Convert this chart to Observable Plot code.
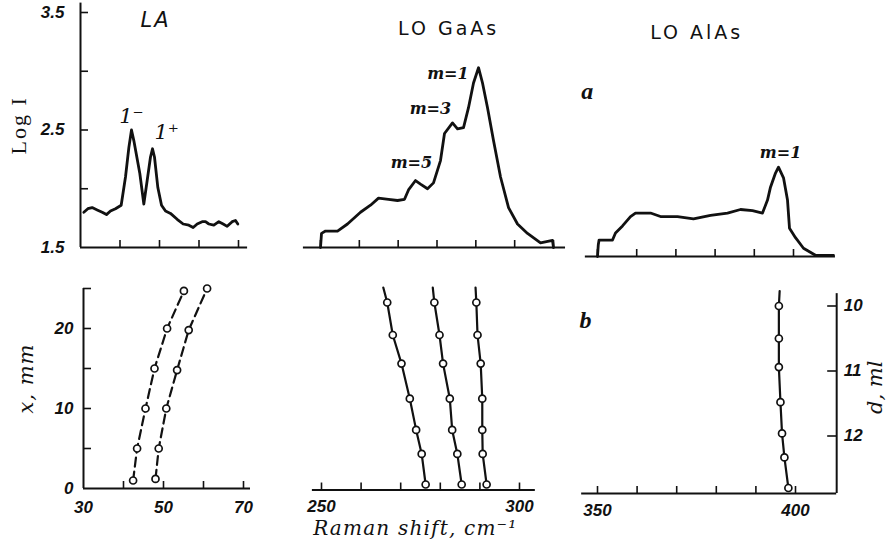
<!DOCTYPE html>
<html><head><meta charset="utf-8">
<script src="https://cdn.jsdelivr.net/npm/d3@7"></script>
<script src="https://cdn.jsdelivr.net/npm/@observablehq/plot@0.6"></script>
<style>
html,body{margin:0;padding:0;background:#fff;}
#chart{position:relative;width:889px;height:545px;overflow:hidden;background:#fff;}
#chart svg{position:absolute;left:0;top:0;background:transparent;overflow:visible;}
</style></head><body><div id="chart"></div>
<script>
// ---------- DATA ----------
// (a) spectra: Raman shift (cm^-1) vs log I
const laShift = [30.84,31.86,32.95,34.22,35.49,36.58,37.59,38.86,40.30,41.39,42.24,42.91,43.50,45.02,46.03,46.88,47.72,48.23,48.73,49.58,50.51,51.52,52.78,54.47,55.99,57.43,58.52,59.54,60.80,61.65,62.49,63.75,65.02,66.12,67.13,68.40,69.24,69.83];
const laLogI  = [1.80,1.83,1.84,1.82,1.80,1.78,1.81,1.83,1.86,2.10,2.35,2.50,2.41,2.13,1.87,2.07,2.27,2.34,2.27,2.01,1.86,1.81,1.79,1.74,1.70,1.69,1.67,1.70,1.72,1.72,1.70,1.69,1.72,1.70,1.68,1.72,1.73,1.70];

const gaShift = [250.0,250.26,251.29,254.38,256.95,260.30,262.88,264.94,267.51,269.83,271.63,272.66,274.47,275.75,277.56,279.10,280.90,281.93,283.99,285.28,286.83,288.11,289.40,290.69,291.72,293.01,294.55,296.36,298.42,300.73,303.31,306.66,309.75,310.0];
const gaLogI  = [1.50,1.62,1.64,1.64,1.70,1.80,1.86,1.92,1.91,1.90,1.91,1.99,2.07,2.04,2.00,2.05,2.24,2.47,2.56,2.51,2.52,2.69,2.90,3.03,2.90,2.69,2.41,2.10,1.84,1.70,1.62,1.54,1.56,1.50];

const alShift = [350.0,350.2,350.4,353.83,354.59,356.38,358.42,359.69,361.73,363.52,366.07,370.41,374.49,378.83,383.16,386.48,389.54,392.09,393.37,394.13,395.41,396.17,397.45,398.47,398.98,400.51,402.55,405.61,410.20];
const alLogI  = [1.50,1.60,1.64,1.64,1.70,1.76,1.84,1.87,1.87,1.87,1.84,1.84,1.82,1.85,1.87,1.90,1.89,1.87,1.98,2.09,2.21,2.26,2.17,1.98,1.74,1.66,1.57,1.51,1.51];

// (b) peak positions vs position x (mm) / layer thickness d (ml)
const laPosLow   = [1, 5, 10, 15, 20, 24.7];
const laShiftLow = [42.4, 43.4, 45.5, 47.75, 50.9, 55.1];      // 1-
const laPosHigh   = [1.2, 5, 10, 14.8, 19.8, 25];
const laShiftHigh = [48.0, 48.8, 50.7, 53.4, 56.3, 60.9];      // 1+

const dLayers = [10.0, 10.5, 10.94, 11.48, 11.96, 12.33, 12.8];
const gaM5 = [266.6, 268.0, 270.2, 272.3, 273.9, 275.3, 276.3];
const gaM3 = [278.5, 279.8, 280.7, 282.4, 283.0, 284.3, 285.4];
const gaM1 = [289.1, 289.4, 290.2, 290.6, 290.6, 290.7, 291.7];
const alM1 = [395.8, 395.8, 395.8, 396.2, 396.6, 397.2, 398.2];
// fitted lines continue slightly above the first point
const lineTopD = 9.77;
const gaLineTop = [265.6, 278.1, 288.9];   // m=5, m=3, m=1
const alLineTop = 396.0;

// ticks and tick labels
const laTicks = [40, 50, 60, 70];
const laLabels = [30, 50, 70];
const gaTopTicks = [250, 260, 270, 280, 290, 300, 310];
const gaBotTicks = [250, 260, 270, 280, 290, 300];
const gaLabels = [250, 300];
const alTicks = [350, 360, 370, 380, 390, 400];
const alLabels = [350, 400];
const logTicks = [2.0, 2.5, 3.0, 3.5];
const logLabels = [1.5, 2.5, 3.5];
const mmTicks = [5, 10, 15, 20, 25];
const mmLabels = [0, 10, 20];
const dTicks = [10, 11, 12];

const titles = ["LA", "LO GaAs", "LO AlAs"];
const peakLabels = ["1⁻", "1⁺"];
const modeLabels = ["m=1", "m=3", "m=5"];

// ---------- RENDER ----------
const W = 889, H = 545, INK = "#111";
const zip = (xs, ys) => xs.map((x, i) => ({x, y: ys[i]}));
const tickFont = {fontFamily: "'Liberation Sans',Arial,sans-serif", fontStyle: "italic", fontWeight: "bold", fontSize: 17, fill: INK};
const titleFont = {fontFamily: "'DejaVu Sans',sans-serif", fontSize: 19, fill: INK};
const annFont = {fontFamily: "'DejaVu Serif',serif", fontStyle: "italic", fontWeight: "bold", fontSize: 16, fill: INK};
const labelFont = {fontFamily: "'DejaVu Serif','Liberation Serif',serif", fontStyle: "italic", fontSize: 19, fill: INK};
const spec = {x: "x", y: "y", stroke: INK, strokeWidth: 2.8, strokeLinejoin: "round", strokeLinecap: "round"};
const axisW = 2, tickW = 1.6;

function panel(xd, xr, yd, yr, marks) {
  const svg = Plot.plot({
    width: W, height: H, margin: 0,
    x: {domain: xd, range: xr, axis: null},
    y: {domain: yd, range: yr, axis: null},
    style: {background: "transparent", overflow: "visible"},
    marks
  });
  svg.style.position = "absolute"; svg.style.left = "0"; svg.style.top = "0";
  svg.style.background = "transparent";
  document.getElementById("chart").appendChild(svg);
  return svg;
}
const xTicksUp = (vals, yb, len = 7) => Plot.ruleX(vals, {x: d => d, y1: yb, y2: yb, insetBottom: len, stroke: INK, strokeWidth: tickW});
const yTicksRight = (vals, xb, len = 8) => Plot.ruleY(vals, {y: d => d, x1: xb, x2: xb, insetRight: -len, stroke: INK, strokeWidth: tickW});
const yTicksLeft = (vals, xb, len = 9) => Plot.ruleY(vals, {y: d => d, x1: xb, x2: xb, insetRight: len, stroke: INK, strokeWidth: tickW});

// --- top-left: LA spectrum with log I axis
panel([30, 70], [80, 238], [1.5, 3.5], [247, 12], [
  Plot.ruleY([1.5], {x1: 30, x2: 72.3, stroke: INK, strokeWidth: axisW}),
  Plot.ruleX([30], {y1: 1.5, y2: 3.58, stroke: INK, strokeWidth: axisW}),
  xTicksUp(laTicks, 1.5),
  yTicksRight(logTicks, 30),
  Plot.text(logLabels, {x: 30, y: d => d, text: d => d.toFixed(1), textAnchor: "end", dx: -16, ...tickFont}),
  Plot.line(zip(laShift, laLogI), spec),
  Plot.text([titles[0]], {x: 49, y: 3.43, text: d => d, ...titleFont, fontStyle: "italic", fontSize: 21}),
  Plot.text([peakLabels[0]], {x: 42.9, y: 2.62, text: d => d, ...labelFont, fontSize: 21}),
  Plot.text([peakLabels[1]], {x: 51.8, y: 2.48, text: d => d, ...labelFont, fontSize: 21}),
  Plot.text(["Log I"], {x: 14.3, y: 2.54, text: d => d, rotate: -90, fontFamily: "'Liberation Serif','DejaVu Serif',serif", fontSize: 22, fill: INK})
]);

// --- top-middle: LO GaAs spectrum
panel([250, 310], [320, 553], [1.5, 3.5], [247, 12], [
  Plot.ruleY([1.5], {x1: 245.6, x2: 313.1, stroke: INK, strokeWidth: axisW}),
  xTicksUp(gaTopTicks, 1.5),
  Plot.line(zip(gaShift, gaLogI), spec),
  Plot.text([titles[1]], {x: 283.0, y: 3.36, text: d => d, ...titleFont}),
  Plot.text([modeLabels[0]], {x: 282.8, y: 2.98, text: d => d, ...annFont}),
  Plot.text([modeLabels[1]], {x: 278.3, y: 2.68, text: d => d, ...annFont}),
  Plot.text([modeLabels[2]], {x: 273.4, y: 2.22, text: d => d, ...annFont})
]);

// --- top-right: LO AlAs spectrum
panel([350, 400], [597, 793], [1.5, 3.5], [256, 21], [
  Plot.ruleY([1.5], {x1: 346.9, x2: 410.7, stroke: INK, strokeWidth: axisW}),
  xTicksUp(alTicks, 1.5),
  Plot.line(zip(alShift, alLogI), spec),
  Plot.text([titles[2]], {x: 375.3, y: 3.40, text: d => d, ...titleFont}),
  Plot.text([modeLabels[0]], {x: 396.7, y: 2.38, text: d => d, ...annFont}),
  Plot.text(["a"], {x: 347.4, y: 2.91, text: d => d, fontFamily: "'Liberation Serif',serif", fontStyle: "italic", fontWeight: "bold", fontSize: 24, fill: INK})
]);

// --- bottom-left: LA peaks vs x (mm)
const dotStyle = {r: 3.5, fill: "white", stroke: INK, strokeWidth: 1.7};
panel([30, 70], [83, 243], [0, 25], [488, 288], [
  Plot.ruleY([0], {x1: 30, x2: 71.75, stroke: INK, strokeWidth: axisW}),
  Plot.ruleX([30], {y1: 0, y2: 25, stroke: INK, strokeWidth: axisW}),
  xTicksUp(laTicks, 0),
  yTicksRight(mmTicks, 30),
  Plot.text(laLabels, {x: d => d, y: 0, text: d => String(d), dy: 19, ...tickFont}),
  Plot.text(mmLabels, {x: 30, y: d => d, text: d => String(d), textAnchor: "end", dx: -10, ...tickFont}),
  Plot.line(zip(laShiftLow, laPosLow), {x: "x", y: "y", stroke: INK, strokeWidth: 2.2, strokeDasharray: "9,5"}),
  Plot.line(zip(laShiftHigh, laPosHigh), {x: "x", y: "y", stroke: INK, strokeWidth: 2.2, strokeDasharray: "9,5"}),
  Plot.dot(zip(laShiftLow, laPosLow), {x: "x", y: "y", ...dotStyle}),
  Plot.dot(zip(laShiftHigh, laPosHigh), {x: "x", y: "y", ...dotStyle}),
  Plot.text(["x, mm"], {x: 15.75, y: 13.75, text: d => d, rotate: -90, ...labelFont, fontSize: 21})
]);

// --- bottom-middle: GaAs confined LO modes vs d
const solid = {x: "x", y: "y", stroke: INK, strokeWidth: 2.2};
const gaSeries = [gaM5, gaM3, gaM1];
panel([250, 300], [321, 519], [10, 12], [302, 432], [
  Plot.ruleY([12.885], {x1: 247.7, x2: 304, stroke: INK, strokeWidth: axisW}),
  xTicksUp(gaBotTicks, 12.885),
  Plot.text(gaLabels, {x: d => d, y: 12.885, text: d => String(d), dy: 17, ...tickFont}),
  ...gaSeries.map((s, k) => Plot.line(zip([gaLineTop[k], ...s], [lineTopD, ...dLayers]), solid)),
  ...gaSeries.map(s => Plot.dot(zip(s, dLayers), {x: "x", y: "y", ...dotStyle})),
  Plot.text(["Raman shift, cm⁻¹"], {x: 273.7, y: 12.885, text: d => d, dy: 39, ...labelFont, fontSize: 20})
]);

// --- bottom-right: AlAs LO mode vs d with right d axis
panel([350, 400], [597, 795], [10, 12], [305.5, 435.5], [
  Plot.ruleY([12.885], {x1: 346, x2: 410.4, stroke: INK, strokeWidth: axisW}),
  Plot.ruleX([410.4], {y1: 9.81, y2: 12.885, stroke: INK, strokeWidth: axisW}),
  xTicksUp(alTicks, 12.885),
  yTicksLeft(dTicks, 410.4),
  Plot.text(alLabels, {x: d => d, y: 12.885, text: d => String(d), dy: 17, ...tickFont}),
  Plot.text(dTicks, {x: 410.4, y: d => d, text: d => String(d), textAnchor: "start", dx: 7, ...tickFont}),
  Plot.line(zip([alLineTop, ...alM1], [lineTopD, ...dLayers]), solid),
  Plot.dot(zip(alM1, dLayers), {x: "x", y: "y", ...dotStyle}),
  Plot.text(["b"], {x: 347.0, y: 10.22, text: d => d, fontFamily: "'Liberation Serif',serif", fontStyle: "italic", fontWeight: "bold", fontSize: 24, fill: INK}),
  Plot.text(["d, ml"], {x: 420.2, y: 11.25, text: d => d, rotate: -90, ...labelFont, fontSize: 21})
]);

// letter spacing for wide-set labels
const spacing = {"LO GaAs": "3px", "LO AlAs": "3px", "LA": "2px", "Log I": "2px", "Raman shift, cm⁻¹": "1.2px", "x, mm": "1px"};
document.querySelectorAll("#chart text").forEach(t => {
  const s = spacing[t.textContent];
  if (s) t.setAttribute("letter-spacing", s);
});
</script></body></html>
